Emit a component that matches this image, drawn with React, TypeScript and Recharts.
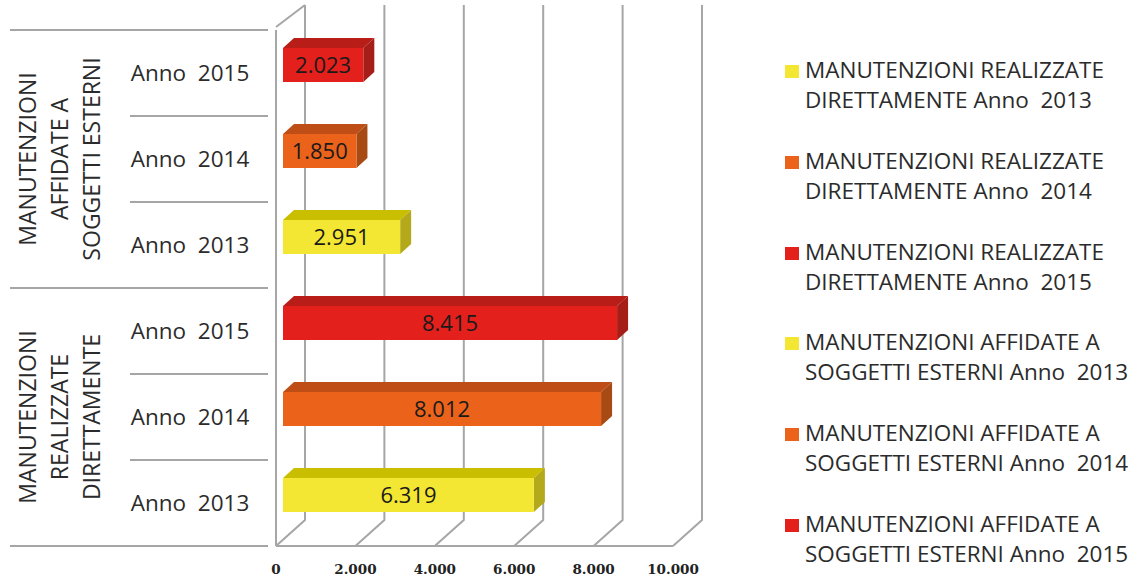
import { BarChart, Bar, XAxis, YAxis, Legend, CartesianGrid } from 'recharts'

const years = ['Anno  2013', 'Anno  2014', 'Anno  2015']
const groups = ['MANUTENZIONI REALIZZATE DIRETTAMENTE', 'MANUTENZIONI AFFIDATE A SOGGETTI ESTERNI']
const direct = [6319, 8012, 8415]
const external = [2951, 1850, 2023]
const xTicks = [0, 2000, 4000, 6000, 8000, 10000]

const palette = [
  { front: '#f4e733', top: '#c9bf00', side: '#b3a91a' },
  { front: '#eb621a', top: '#be4e15', side: '#a84a14' },
  { front: '#e3201b', top: '#b81d17', side: '#a51e18' },
]

// 3D look of the old office chart
const dx = 29
const dy = 26
const wallTop = 5
const barDepth = 11
const rowH = 86
const gray = '#a6a6a6'
const textColor = '#2b2b2b'
const fmt = (v: number) => v.toLocaleString('de-DE')

const seriesNames = [
  `${groups[0]} ${years[0]}`, `${groups[0]} ${years[1]}`, `${groups[0]} ${years[2]}`,
  `${groups[1]} ${years[0]}`, `${groups[1]} ${years[1]}`, `${groups[1]} ${years[2]}`,
]
const seriesValues = [...direct, ...external]
const seriesColors = [...palette, ...palette]

// top row first, like the picture
const rows = seriesNames
  .map((name, i) => ({ key: name, year: years[i % 3], [name]: seriesValues[i] }))
  .reverse()

function Bar3D(props: any) {
  const { y, width, height, value, fill, colors } = props
  if (!width) return null
  // bars sit in the middle of the floor depth
  const x = props.x + 7
  const top = y - 8
  const v = Array.isArray(value) ? value[1] - value[0] : value
  return (
    <g>
      <polygon points={`${x},${top} ${x + barDepth},${top - barDepth + 1} ${x + width + barDepth},${top - barDepth + 1} ${x + width},${top}`} fill={colors.top} />
      <polygon points={`${x + width},${top} ${x + width + barDepth},${top - barDepth + 1} ${x + width + barDepth},${top + height - barDepth + 1} ${x + width},${top + height}`} fill={colors.side} />
      <rect x={x} y={top} width={width} height={height} fill={fill} />
      <text x={x + width / 2} y={top + height / 2 + 8} textAnchor="middle" fontSize={22} fill="#1a1a1a" fontFamily="Open Sans">{fmt(v)}</text>
    </g>
  )
}

// floor line and back wall line of one value, behind the bars
function WallLine(props: any) {
  const { x1, y2, index } = props
  return (
    <g>
      <polyline points={`${x1},${y2} ${x1 + dx},${y2 - dy} ${x1 + dx},${wallTop}`} fill="none" stroke={gray} strokeWidth={2} />
      {index === 0 && <line x1={x1} y1={wallTop + dy - 4} x2={x1 + dx} y2={wallTop} stroke={gray} strokeWidth={2} />}
    </g>
  )
}

function ValueTick(props: any) {
  const { x, y, payload } = props
  return <text x={x} y={y + 20} textAnchor="middle" fontSize={13.5} fontWeight="bold" fill="#222" fontFamily="DejaVu Serif">{fmt(payload.value)}</text>
}

function YearTick(props: any) {
  const { x, y, index } = props
  // row separators: long at the group borders, short inside
  const long = index === 0 || index === 3
  const group = index === 1 ? ['MANUTENZIONI', 'AFFIDATE A', 'SOGGETTI ESTERNI'] : index === 4 ? ['MANUTENZIONI', 'REALIZZATE', 'DIRETTAMENTE'] : null
  return (
    <g>
      <line x1={long ? 10 : 130} x2={x} y1={y - rowH / 2} y2={y - rowH / 2} stroke={gray} strokeWidth={2} />
      {index === 5 && <line x1={10} x2={x} y1={y + rowH / 2} y2={y + rowH / 2} stroke={gray} strokeWidth={2} />}
      <text x={190} y={y + 8} textAnchor="middle" fontSize={22.5} fill={textColor} fontFamily="Open Sans" style={{ whiteSpace: 'pre' }}>{rows[index].year}</text>
      {group && group.map((t, i) => (
        <text key={t} transform={`translate(${36 + i * 32},${y}) rotate(-90)`} textAnchor="middle" fontSize={23} fill={textColor} fontFamily="Open Sans">{t}</text>
      ))}
    </g>
  )
}

function LegendList({ payload }: any) {
  return (
    <div style={{ fontFamily: 'Open Sans', fontSize: 22.5, lineHeight: '30px', color: textColor }}>
      {payload.map((p: any) => (
        <div key={p.value} style={{ position: 'relative', paddingLeft: 28, height: 90.8, width: 327 }}>
          <span style={{ position: 'absolute', left: 8, top: 10, width: 14, height: 13, background: p.color }} />
          <span style={{ whiteSpace: 'pre-wrap' }}>{p.value}</span>
        </div>
      ))}
    </div>
  )
}

export default function App() {
  return (
    <div style={{ position: 'absolute', left: 0, top: 0, width: 1132, height: 579, overflow: 'hidden', background: '#fff' }}>
      <BarChart
        width={1132}
        height={579}
        data={rows}
        layout="vertical"
        margin={{ top: 30, right: 104, bottom: 0, left: 10 }}
        barCategoryGap={26}
      >
        <CartesianGrid horizontal={false} syncWithTicks vertical={(p: any) => <WallLine {...p} />} />
        <XAxis type="number" domain={[0, 10000]} ticks={xTicks} height={33} axisLine={{ stroke: gray, strokeWidth: 2 }} tickLine={false} tick={<ValueTick />} interval={0} />
        <YAxis type="category" dataKey="key" width={266} axisLine={{ stroke: gray, strokeWidth: 2 }} tickLine={false} interval={0} tick={<YearTick />} />
        <Legend layout="vertical" align="right" verticalAlign="top" itemSorter={null} content={<LegendList />} wrapperStyle={{ left: 777, top: 55, width: 355 }} />
        {seriesNames.map((name, i) => (
          <Bar key={name} dataKey={name} name={name} stackId="all" fill={seriesColors[i].front} isAnimationActive={false}
            shape={(p: any) => <Bar3D {...p} colors={seriesColors[i]} />} />
        ))}
      </BarChart>
    </div>
  )
}
